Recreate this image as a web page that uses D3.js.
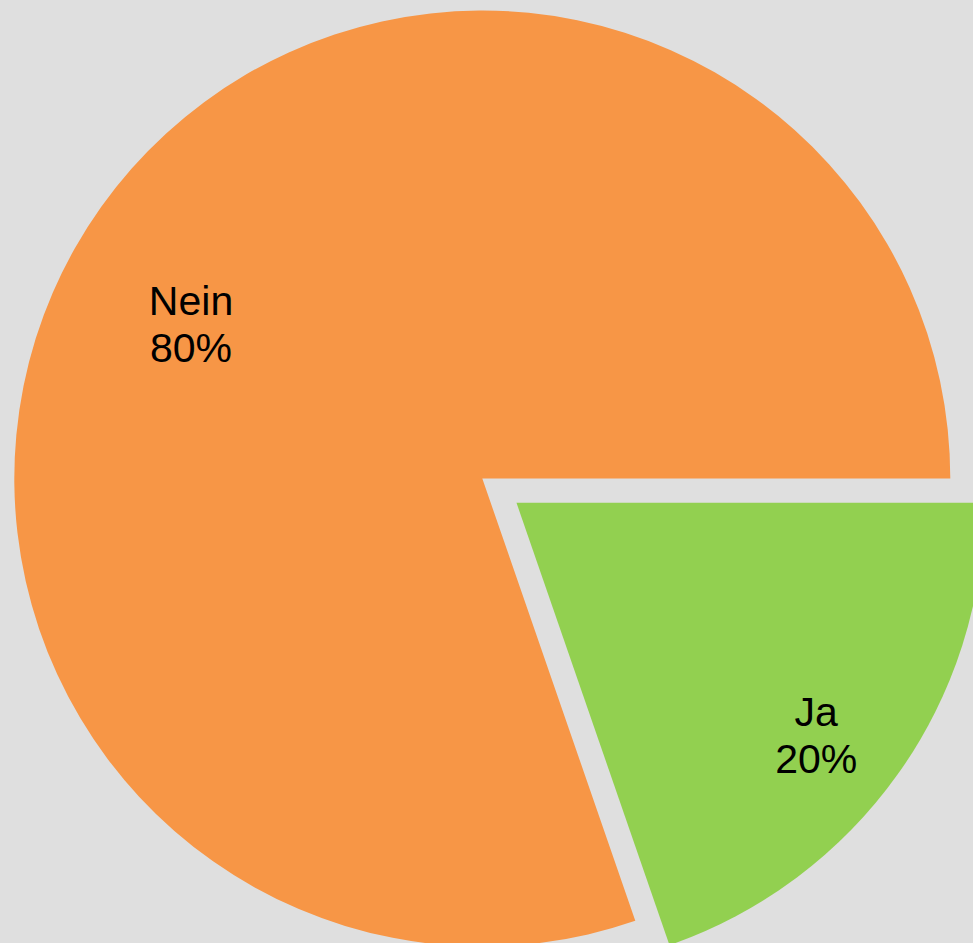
<!DOCTYPE html>
<html>
<head>
<meta charset="utf-8">
<script src="https://cdn.jsdelivr.net/npm/d3@7"></script>
<style>
html,body{margin:0;padding:0;background:#dfdfdf;}
svg{display:block;}
</style>
</head>
<body>
<svg id="chart" width="973" height="943"></svg>
<script>
const categories = ["Ja", "Nein"];
const values = [19.7, 80.3];
const colors = ["#92d050", "#f79646"];

const W = 973, H = 943;
const cx = 482.3, cy = 478.5, R = 468;
const explode = 42;

const svg = d3.select("#chart");
svg.append("rect").attr("width", W).attr("height", H).attr("fill", "#dfdfdf");

const total = d3.sum(values);
const pie = d3.pie().sort(null).value(d => d.v)
  .startAngle(Math.PI / 2).endAngle(Math.PI / 2 + 2 * Math.PI);
const data = pie(categories.map((c, i) => ({c, v: values[i], col: colors[i]})));
const arc = d3.arc().innerRadius(0).outerRadius(R);

const g = svg.append("g").attr("transform", `translate(${cx},${cy})`);

data.forEach(d => {
  const mid = (d.startAngle + d.endAngle) / 2;
  const off = d.data.c === "Ja" ? explode : 0;
  const ox = Math.sin(mid) * off, oy = -Math.cos(mid) * off;
  const sg = g.append("g").attr("transform", `translate(${ox},${oy})`);
  sg.append("path").attr("d", arc(d)).attr("fill", d.data.col);
  const la = d.data.c === "Ja" ? mid + 0.04 : mid - 0.13;
  const lr = d.data.c === "Ja" ? 0.81 * R : 0.705 * R;
  const lx = Math.sin(la) * lr, ly = -Math.cos(la) * lr;
  const t = sg.append("text").attr("text-anchor", "middle")
    .attr("font-family", "Liberation Sans, Arial, sans-serif")
    .attr("font-size", 41).attr("fill", "#000");
  t.append("tspan").attr("x", lx).attr("y", ly - 9).text(d.data.c);
  t.append("tspan").attr("x", lx).attr("y", ly + 38)
    .text(Math.round(d.data.v / total * 100) + "%");
});
</script>
</body>
</html>
